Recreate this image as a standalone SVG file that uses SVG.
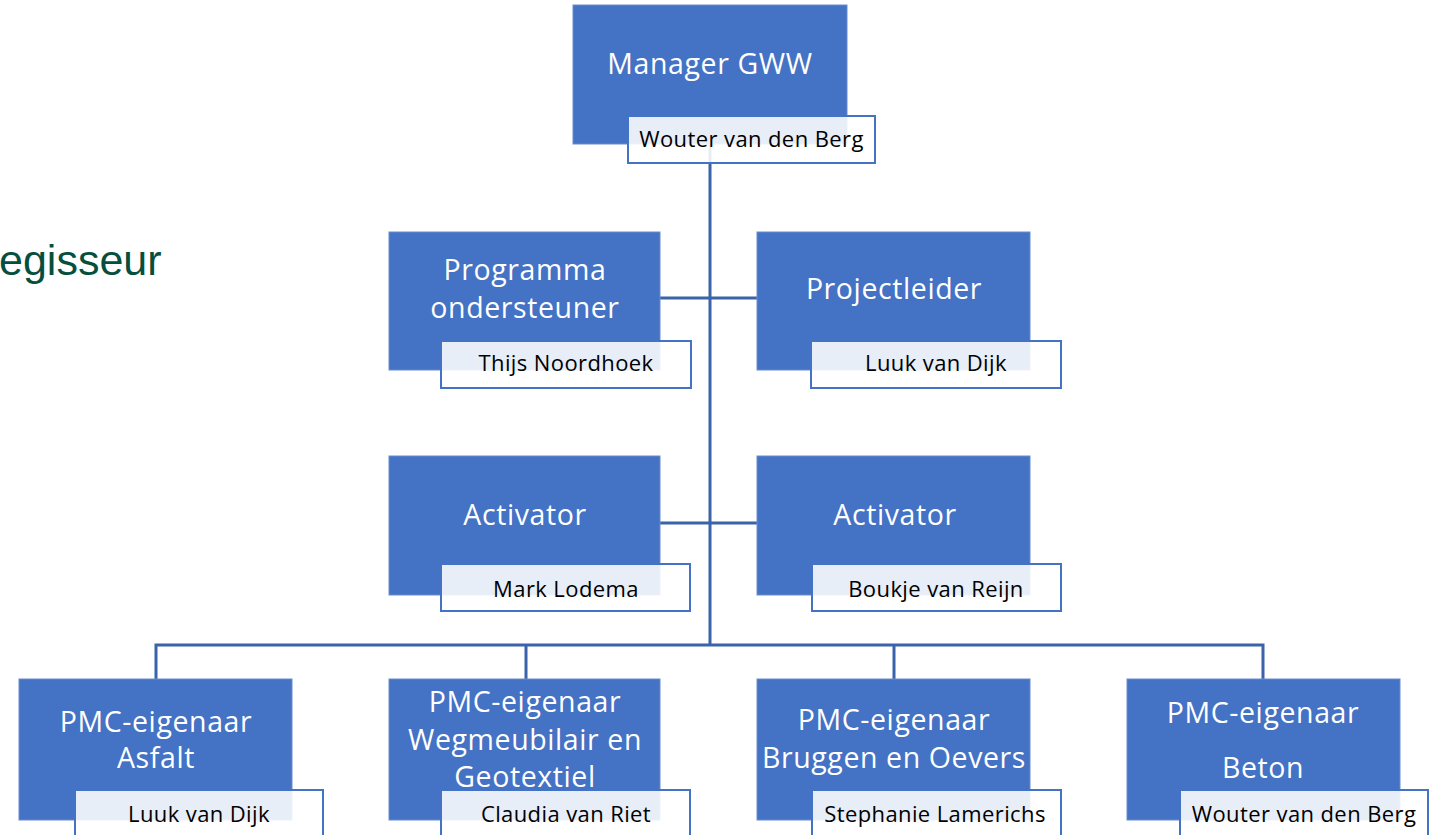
<svg xmlns="http://www.w3.org/2000/svg" width="1434" height="835" viewBox="0 0 1434 835">
<style>
.box{fill:#4472C4;stroke:#6A8CCB;stroke-width:1}
.lbl{fill:#FFFFFF;fill-opacity:0.88;stroke:#4472C4;stroke-width:2}
.t{font-family:"Open Sans","Noto Sans",sans-serif;font-size:28.5px;fill:#FFFFFF;text-anchor:middle;letter-spacing:0.6px}
.n{font-family:"Open Sans","Noto Sans",sans-serif;font-size:22px;fill:#000000;text-anchor:middle;letter-spacing:0.4px}
.c{fill:none;stroke:#3A63AA;stroke-width:3}
</style>
<rect width="1434" height="835" fill="#FFFFFF"/>
<text x="-1" y="275" font-family="Liberation Sans, Arial, sans-serif" font-size="43" fill="#064F3E">egisseur</text>
<g id="connectors">
<path class="c" d="M710 144 V645"/>
<path class="c" d="M660 298 H757"/>
<path class="c" d="M660 523 H757"/>
<path class="c" d="M156 679 V645 H1263 V679"/>
<path class="c" d="M526 645 V679"/>
<path class="c" d="M894 645 V679"/>
</g>
<g id="manager">
<rect class="box" x="573" y="5" width="274" height="139"/>
<text class="t" x="710" y="74">Manager GWW</text>
<rect class="lbl" x="628" y="116" width="247" height="47"/>
<text class="n" x="751.5" y="147">Wouter van den Berg</text>
</g>
<g id="programma">
<rect class="box" x="389" y="232" width="271" height="138"/>
<text class="t" x="525" y="280">Programma</text>
<text class="t" x="525" y="318">ondersteuner</text>
<rect class="lbl" x="441" y="341" width="250" height="47"/>
<text class="n" x="566" y="371">Thijs Noordhoek</text>
</g>
<g id="projectleider">
<rect class="box" x="757" y="232" width="273" height="138"/>
<text class="t" x="894" y="299">Projectleider</text>
<rect class="lbl" x="811" y="341" width="250" height="47"/>
<text class="n" x="936" y="371">Luuk van Dijk</text>
</g>
<g id="activator1">
<rect class="box" x="389" y="456" width="271" height="139"/>
<text class="t" x="525" y="525">Activator</text>
<rect class="lbl" x="441" y="564" width="249" height="47"/>
<text class="n" x="566" y="597">Mark Lodema</text>
</g>
<g id="activator2">
<rect class="box" x="757" y="456" width="273" height="139"/>
<text class="t" x="895" y="525">Activator</text>
<rect class="lbl" x="812" y="564" width="249" height="47"/>
<text class="n" x="936" y="597">Boukje van Reijn</text>
</g>
<g id="asfalt">
<rect class="box" x="19" y="679" width="273" height="141"/>
<text class="t" x="156" y="732">PMC-eigenaar</text>
<text class="t" x="156" y="768">Asfalt</text>
<rect class="lbl" x="75" y="790" width="248" height="46"/>
<text class="n" x="199" y="822">Luuk van Dijk</text>
</g>
<g id="wegmeubilair">
<rect class="box" x="389" y="679" width="271" height="141"/>
<text class="t" x="525" y="712">PMC-eigenaar</text>
<text class="t" x="525" y="750">Wegmeubilair en</text>
<text class="t" x="525" y="787">Geotextiel</text>
<rect class="lbl" x="441" y="790" width="249" height="46"/>
<text class="n" x="566" y="822">Claudia van Riet</text>
</g>
<g id="bruggen">
<rect class="box" x="757" y="679" width="273" height="141"/>
<text class="t" x="894" y="730">PMC-eigenaar</text>
<text class="t" x="894" y="768">Bruggen en Oevers</text>
<rect class="lbl" x="812" y="790" width="249" height="46"/>
<text class="n" x="935" y="822">Stephanie Lamerichs</text>
</g>
<g id="beton">
<rect class="box" x="1127" y="679" width="273" height="141"/>
<text class="t" x="1263" y="723">PMC-eigenaar</text>
<text class="t" x="1263" y="778">Beton</text>
<rect class="lbl" x="1180" y="790" width="248" height="46"/>
<text class="n" x="1304" y="822">Wouter van den Berg</text>
</g>
</svg>
